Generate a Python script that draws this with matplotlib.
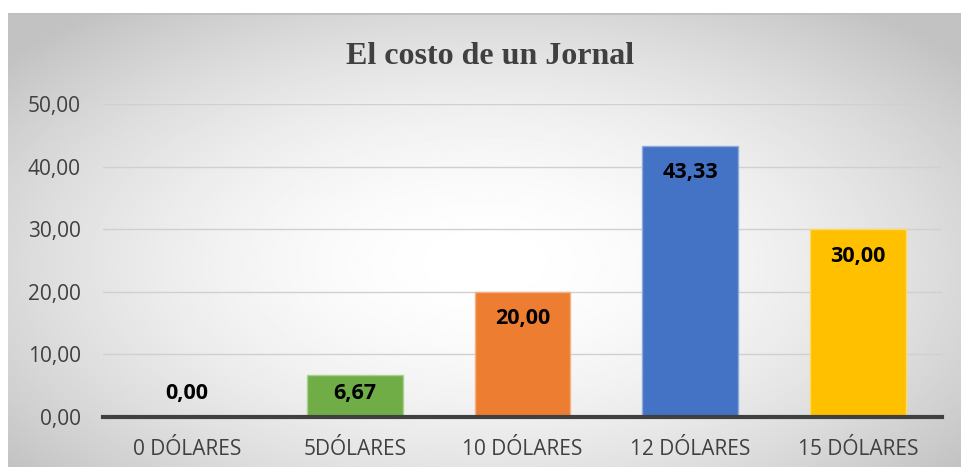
import matplotlib.pyplot as plt
import numpy as np

# datos del grafico
categorias = ['0 DÓLARES', '5DÓLARES', '10 DÓLARES', '12 DÓLARES', '15 DÓLARES']
valores = [0.00, 6.67, 20.00, 43.33, 30.00]
colores = ['#a5a5a5', '#70ad47', '#ed7d31', '#4472c4', '#ffc000']
bordes = ['#c9c9c9', '#a9d18e', '#f4b183', '#8faadc', '#ffd966']
ticks_y = [0, 10, 20, 30, 40, 50]

fig = plt.figure(figsize=(9.61, 4.71), dpi=100)
fig.patch.set_facecolor('white')

# fondo con degradado radial
bg = fig.add_axes([8 / 961, 1 - 467 / 471, 953 / 961, 454 / 471])
yy, xx = np.mgrid[-1:1:300j, -1:1:600j]
r = np.sqrt((xx / 1.0) ** 2 + ((yy - 0.1) / 1.1) ** 2)
r = np.clip(r / 1.3, 0, 1)
bg.imshow(1 - 0.24 * r ** 1.8, cmap='gray', vmin=0, vmax=1, aspect='auto',
          extent=[0, 1, 0, 1])
bg.plot([0, 1], [1, 1], color='#bfbfbf', lw=2)
bg.set_xlim(0, 1)
bg.set_ylim(0, 1)
bg.axis('off')

ax = fig.add_axes([103 / 961, 1 - 417 / 471, 839 / 961, 313 / 471])
ax.patch.set_alpha(0)
x = np.arange(len(categorias))
ax.bar(x, valores, width=0.57, color=colores, edgecolor=bordes, linewidth=1, zorder=3)

# etiquetas de valor
for xi, v in zip(x, valores):
    yl = max(v - 4.3, 3.8)
    ax.text(xi, yl, ('%.2f' % v).replace('.', ','), ha='center', va='center',
            fontsize=15.5, fontweight='bold', color='black', family='Open Sans', zorder=4)

ax.set_xlim(-0.5, 4.5)
ax.set_ylim(0, 50)
ax.set_yticks(ticks_y)
ax.set_yticklabels([('%.2f' % t).replace('.', ',') for t in ticks_y])
ax.set_xticks(x)
ax.set_xticklabels(categorias)
ax.tick_params(length=0, labelsize=15, labelcolor='#404040')
for lab in ax.get_xticklabels() + ax.get_yticklabels():
    lab.set_family('Open Sans')
ax.tick_params(axis='x', pad=16)
ax.tick_params(axis='y', pad=16)
ax.grid(axis='y', color='#d0d0d0', lw=1, zorder=0)
for s in ['top', 'right', 'left']:
    ax.spines[s].set_visible(False)
ax.spines['bottom'].set_color('#404040')
ax.spines['bottom'].set_linewidth(3)
ax.spines['bottom'].set_zorder(5)

fig.text(490 / 961, 1 - 56 / 471, 'El costo de un Jornal', ha='center', va='center',
         fontsize=23, fontweight='bold', family='Liberation Serif', color='#404040')

fig.savefig('out.png', dpi=100)
